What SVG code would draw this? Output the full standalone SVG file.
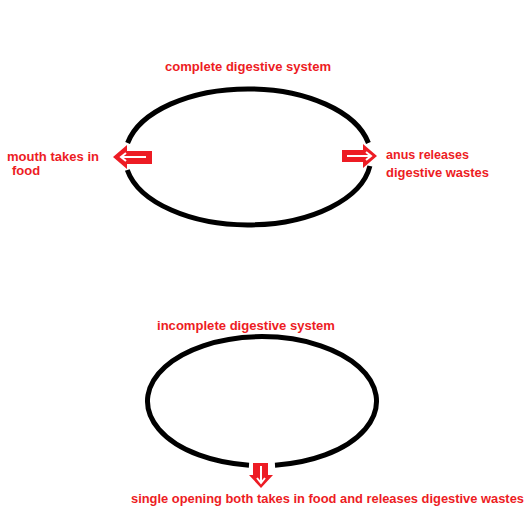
<svg xmlns="http://www.w3.org/2000/svg" width="527" height="521" viewBox="0 0 527 521">
<style>
.lbl{font-family:"Liberation Sans",Arial,sans-serif;font-weight:bold;font-size:13px;fill:#ED1C24}
.ring{fill:none;stroke:#000;stroke-width:5}
.arr{fill:#ED1C24}
.inner{fill:none;stroke:#fff;stroke-width:2}
</style>
<rect width="527" height="521" fill="#fff"/>
<g id="complete">
<path class="ring" d="M127.6,143 A123,68 0 0 1 368.4,143"/>
<path class="ring" d="M127.3,170 A123,68 0 0 0 369.9,166"/>
<text class="lbl" x="165" y="71" textLength="166" lengthAdjust="spacingAndGlyphs">complete digestive system</text>
</g>
<g id="mouth">
<polygon class="arr" points="113,157 127,145 127,151 152,151 152,164 127,164 127,169"/>
<polyline class="inner" points="146,157 122,157"/>
<polyline class="inner" points="126,153 121,157 126,161"/>
<text class="lbl" x="7" y="161" textLength="92" lengthAdjust="spacingAndGlyphs">mouth takes in</text>
<text class="lbl" x="12" y="175">food</text>
</g>
<g id="anus">
<polygon class="arr" points="377,156 363,144 363,150 342,150 342,162 363,162 363,168"/>
<polyline class="inner" points="347,156 370,156"/>
<polyline class="inner" points="366,152 371,156 366,160"/>
<text class="lbl" x="386" y="159" textLength="83" lengthAdjust="spacingAndGlyphs">anus releases</text>
<text class="lbl" x="386" y="177" textLength="103" lengthAdjust="spacingAndGlyphs">digestive wastes</text>
</g>
<g id="incomplete">
<path class="ring" d="M249,465.2 A114.5,64.5 0 1 1 275,465.2"/>
<text class="lbl" x="157" y="330" textLength="178" lengthAdjust="spacingAndGlyphs">incomplete digestive system</text>
</g>
<g id="opening">
<polygon class="arr" points="253,463 268,463 268,475 273,475 261,488 249,475 253,475"/>
<polyline class="inner" points="261,466 261,482"/>
<polyline class="inner" points="257,478 261,483 265,478"/>
<text class="lbl" x="131" y="503" textLength="393" lengthAdjust="spacingAndGlyphs">single opening both takes in food and releases digestive wastes</text>
</g>
<g id="connectors"></g>
</svg>
